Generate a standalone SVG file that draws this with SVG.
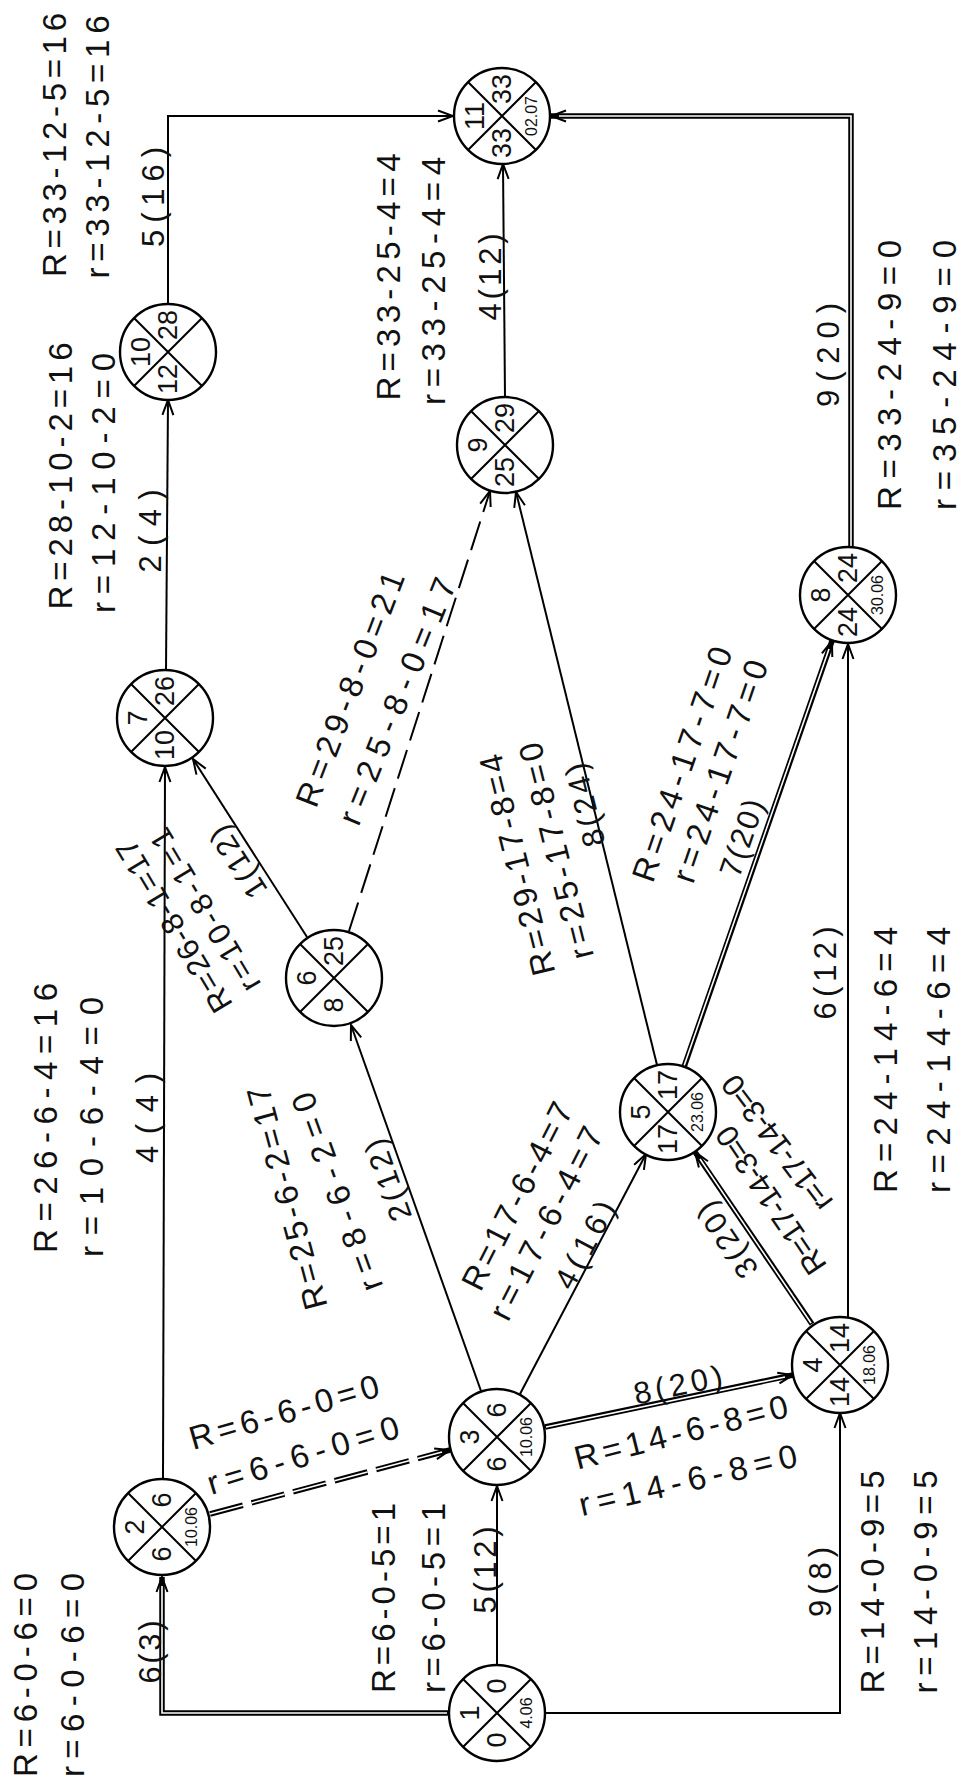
<svg xmlns="http://www.w3.org/2000/svg" width="963" height="1784" viewBox="0 0 963 1784">
<style>
text{font-family:"Liberation Sans",Arial,sans-serif;fill:#111;text-anchor:middle;dominant-baseline:central}
.node circle{fill:#fff;stroke:#000;stroke-width:2.4}
.node path{fill:none;stroke:#000;stroke-width:2}
.q{font-size:27px}
.dt{font-size:16px}
.lr{font-size:33px}
.lb{font-size:31px}
.e{fill:none;stroke:#000;stroke-width:2}
.dash{stroke-dasharray:30 10}
.dbl{fill:none;stroke:#000;stroke-width:5.5;stroke-linejoin:miter}
.dbi{fill:none;stroke:#fff;stroke-width:1.6;stroke-linejoin:miter}
.dd{stroke-dasharray:34 9}
</style>
<defs>
<marker id="ar" viewBox="-16 -8 18 16" refX="0" refY="0" markerWidth="18" markerHeight="16" orient="auto" markerUnits="userSpaceOnUse">
<path d="M-15,-5.5 L0,0 L-15,5.5" fill="none" stroke="#000" stroke-width="2"/>
</marker>
</defs>
<rect width="963" height="1784" fill="#fff"/>

<g id="connectors">
<path class="e" d="M497,1664 V1486" marker-end="url(#ar)"/>
<path class="e" d="M546,1713 H840 V1413" marker-end="url(#ar)"/>
<path class="e" d="M163,1478 L165,767" marker-end="url(#ar)"/>
<path class="e" d="M520,1394 L646,1154" marker-end="url(#ar)"/>
<path class="e" d="M481,1391 L351,1025" marker-end="url(#ar)"/>
<path class="e" d="M848,1318 V644" marker-end="url(#ar)"/>
<path class="e" d="M657,1065 L516,492" marker-end="url(#ar)"/>
<path class="e" d="M307,937 L193,759" marker-end="url(#ar)"/>
<path class="e dash" d="M349,931 L490,491" marker-end="url(#ar)"/>
<path class="e" d="M166,670 L168,400" marker-end="url(#ar)"/>
<path class="e" d="M505,397 L503,164" marker-end="url(#ar)"/>
<path class="e" d="M168,304 V116 H453" marker-end="url(#ar)"/>

<path class="dbl" d="M448,1713 H162 V1577" marker-end="url(#ar)"/>
<path class="dbi" d="M447,1713 H162 V1586"/>
<path class="dbl dd" d="M210,1514 L450,1450" marker-end="url(#ar)"/>
<path class="dbi dd" d="M210,1514 L442,1452"/>
<path class="dbl" d="M545,1427 L793,1375" marker-end="url(#ar)"/>
<path class="dbi" d="M546,1427 L785,1377"/>
<path class="dbl" d="M812,1324 L695,1152" marker-end="url(#ar)"/>
<path class="dbi" d="M811,1323 L700,1159"/>
<path class="dbl" d="M684,1067 L832,641" marker-end="url(#ar)"/>
<path class="dbi" d="M684,1066 L829,649"/>
<path class="dbl" d="M851,547 V116 H551" marker-end="url(#ar)"/>
<path class="dbi" d="M851,546 V116 H559"/>
</g>

<g id="node1" class="node" transform="translate(497,1713)"><circle r="48"/><path d="M-34,-34 L34,34 M-34,34 L34,-34"/>
<text class="q" transform="translate(-27,0) rotate(-90)">1</text><text class="q" transform="translate(0,-27) rotate(-90)">0</text><text class="q" transform="translate(0,27) rotate(-90)">0</text><text class="dt" transform="translate(29,0) rotate(-90)">4.06</text></g>
<g id="node2" class="node" transform="translate(162,1527)"><circle r="48"/><path d="M-34,-34 L34,34 M-34,34 L34,-34"/>
<text class="q" transform="translate(-27,0) rotate(-90)">2</text><text class="q" transform="translate(0,-27) rotate(-90)">6</text><text class="q" transform="translate(0,27) rotate(-90)">6</text><text class="dt" transform="translate(29,0) rotate(-90)">10.06</text></g>
<g id="node3" class="node" transform="translate(497,1437)"><circle r="48"/><path d="M-34,-34 L34,34 M-34,34 L34,-34"/>
<text class="q" transform="translate(-27,0) rotate(-90)">3</text><text class="q" transform="translate(0,-27) rotate(-90)">6</text><text class="q" transform="translate(0,27) rotate(-90)">6</text><text class="dt" transform="translate(29,0) rotate(-90)">10.06</text></g>
<g id="node4" class="node" transform="translate(840,1365)"><circle r="48"/><path d="M-34,-34 L34,34 M-34,34 L34,-34"/>
<text class="q" transform="translate(-27,0) rotate(-90)">4</text><text class="q" transform="translate(0,-27) rotate(-90)">14</text><text class="q" transform="translate(0,27) rotate(-90)">14</text><text class="dt" transform="translate(29,0) rotate(-90)">18.06</text></g>
<g id="node5" class="node" transform="translate(668,1112)"><circle r="48"/><path d="M-34,-34 L34,34 M-34,34 L34,-34"/>
<text class="q" transform="translate(-27,0) rotate(-90)">5</text><text class="q" transform="translate(0,-27) rotate(-90)">17</text><text class="q" transform="translate(0,27) rotate(-90)">17</text><text class="dt" transform="translate(29,0) rotate(-90)">23.06</text></g>
<g id="node6" class="node" transform="translate(334,978)"><circle r="48"/><path d="M-34,-34 L34,34 M-34,34 L34,-34"/>
<text class="q" transform="translate(-27,0) rotate(-90)">6</text><text class="q" transform="translate(0,-27) rotate(-90)">25</text><text class="q" transform="translate(0,27) rotate(-90)">8</text></g>
<g id="node7" class="node" transform="translate(165,718)"><circle r="48"/><path d="M-34,-34 L34,34 M-34,34 L34,-34"/>
<text class="q" transform="translate(-27,0) rotate(-90)">7</text><text class="q" transform="translate(0,-27) rotate(-90)">26</text><text class="q" transform="translate(0,27) rotate(-90)">10</text></g>
<g id="node8" class="node" transform="translate(848,595)"><circle r="48"/><path d="M-34,-34 L34,34 M-34,34 L34,-34"/>
<text class="q" transform="translate(-27,0) rotate(-90)">8</text><text class="q" transform="translate(0,-27) rotate(-90)">24</text><text class="q" transform="translate(0,27) rotate(-90)">24</text><text class="dt" transform="translate(29,0) rotate(-90)">30.06</text></g>
<g id="node9" class="node" transform="translate(505,445)"><circle r="48"/><path d="M-34,-34 L34,34 M-34,34 L34,-34"/>
<text class="q" transform="translate(-27,0) rotate(-90)">9</text><text class="q" transform="translate(0,-27) rotate(-90)">29</text><text class="q" transform="translate(0,27) rotate(-90)">25</text></g>
<g id="node10" class="node" transform="translate(168,352)"><circle r="48"/><path d="M-34,-34 L34,34 M-34,34 L34,-34"/>
<text class="q" transform="translate(-27,0) rotate(-90)">10</text><text class="q" transform="translate(0,-27) rotate(-90)">28</text><text class="q" transform="translate(0,27) rotate(-90)">12</text></g>
<g id="node11" class="node" transform="translate(502,116)"><circle r="48"/><path d="M-34,-34 L34,34 M-34,34 L34,-34"/>
<text class="q" transform="translate(-27,0) rotate(-90)">11</text><text class="q" transform="translate(0,-27) rotate(-90)">33</text><text class="q" transform="translate(0,27) rotate(-90)">33</text><text class="dt" transform="translate(29,0) rotate(-90)">02.07</text></g>

<g id="labels">
<text class="lr" transform="translate(54,145) rotate(-90)" textLength="264" lengthAdjust="spacing">R=33-12-5=16</text>
<text class="lr" transform="translate(97,147) rotate(-90)" textLength="263" lengthAdjust="spacing">r=33-12-5=16</text>
<text class="lb" transform="translate(153,197) rotate(-90)" textLength="100" lengthAdjust="spacing">5(16)</text>
<text class="lr" transform="translate(60,476) rotate(-90)" textLength="267" lengthAdjust="spacing">R=28-10-2=16</text>
<text class="lr" transform="translate(103,483) rotate(-90)" textLength="260" lengthAdjust="spacing">r=12-10-2=0</text>
<text class="lb" transform="translate(150,531) rotate(-90)" textLength="83" lengthAdjust="spacing">2(4)</text>
<text class="lr" transform="translate(388,277) rotate(-90)" textLength="247" lengthAdjust="spacing">R=33-25-4=4</text>
<text class="lr" transform="translate(433,281) rotate(-90)" textLength="248" lengthAdjust="spacing">r=33-25-4=4</text>
<text class="lb" transform="translate(490,277) rotate(-90)" textLength="87" lengthAdjust="spacing">4(12)</text>
<text class="lb" transform="translate(828,355) rotate(-90)" textLength="104" lengthAdjust="spacing">9(20)</text>
<text class="lr" transform="translate(889,375) rotate(-90)" textLength="270" lengthAdjust="spacing">R=33-24-9=0</text>
<text class="lr" transform="translate(944,375) rotate(-90)" textLength="270" lengthAdjust="spacing">r=35-24-9=0</text>
<text class="lr" transform="translate(45,1118) rotate(-90)" textLength="270" lengthAdjust="spacing">R=26-6-4=16</text>
<text class="lr" transform="translate(91,1127) rotate(-90)" textLength="260" lengthAdjust="spacing">r=10-6-4=0</text>
<text class="lb" transform="translate(147,1118) rotate(-90)" textLength="90" lengthAdjust="spacing">4(4)</text>
<text class="lb" transform="translate(825,973) rotate(-90)" textLength="93" lengthAdjust="spacing">6(12)</text>
<text class="lr" transform="translate(885,1060) rotate(-90)" textLength="266" lengthAdjust="spacing">R=24-14-6=4</text>
<text class="lr" transform="translate(938,1060) rotate(-90)" textLength="266" lengthAdjust="spacing">r=24-14-6=4</text>
<text class="lr" transform="translate(25,1675) rotate(-90)" textLength="204" lengthAdjust="spacing">R=6-0-6=0</text>
<text class="lr" transform="translate(72,1675) rotate(-90)" textLength="204" lengthAdjust="spacing">r=6-0-6=0</text>
<text class="lb" transform="translate(150,1652) rotate(-90)" textLength="63" lengthAdjust="spacing">6(3)</text>
<text class="lr" transform="translate(383,1598) rotate(-90)" textLength="190" lengthAdjust="spacing">R=6-0-5=1</text>
<text class="lr" transform="translate(433,1598) rotate(-90)" textLength="190" lengthAdjust="spacing">r=6-0-5=1</text>
<text class="lb" transform="translate(485,1570) rotate(-90)" textLength="87" lengthAdjust="spacing">5(12)</text>
<text class="lb" transform="translate(820,1582) rotate(-90)" textLength="70" lengthAdjust="spacing">9(8)</text>
<text class="lr" transform="translate(872,1582) rotate(-90)" textLength="223" lengthAdjust="spacing">R=14-0-9=5</text>
<text class="lr" transform="translate(925,1582) rotate(-90)" textLength="223" lengthAdjust="spacing">r=14-0-9=5</text>

<text class="lr" transform="translate(284,1412) rotate(-16)" textLength="196" lengthAdjust="spacing">R=6-6-0=0</text>
<text class="lr" transform="translate(303,1455) rotate(-17)" textLength="199" lengthAdjust="spacing">r=6-6-0=0</text>
<text class="lb" transform="translate(678,1385) rotate(-12)" textLength="90" lengthAdjust="spacing">8(20)</text>
<text class="lr" transform="translate(681,1432) rotate(-14)" textLength="219" lengthAdjust="spacing">R=14-6-8=0</text>
<text class="lr" transform="translate(688,1480) rotate(-13)" textLength="223" lengthAdjust="spacing">r=14-6-8=0</text>
<text class="lb" transform="translate(388,1180) rotate(-109.6)" textLength="85" lengthAdjust="spacing">2(12)</text>
<text class="lr" transform="translate(287,1198) rotate(-105)" textLength="230" lengthAdjust="spacing">R=25-6-2=17</text>
<text class="lr" transform="translate(337,1192) rotate(-110)" textLength="209" lengthAdjust="spacing">r=8-6-2=0</text>
<text class="lb" transform="translate(585,1245) rotate(-62)" textLength="95" lengthAdjust="spacing">4(16)</text>
<text class="lr" transform="translate(517,1196) rotate(-63)" textLength="206" lengthAdjust="spacing">R=17-6-4=7</text>
<text class="lr" transform="translate(546,1223) rotate(-63)" textLength="212" lengthAdjust="spacing">r=17-6-4=7</text>
<text class="lb" transform="translate(727,1240) rotate(-124)" textLength="85" lengthAdjust="spacing">3(20)</text>
<text class="lb" transform="translate(771,1200) rotate(-124)" textLength="172" lengthAdjust="spacing">R=17-14-3=0</text>
<text class="lb" transform="translate(777,1143) rotate(-127)" textLength="162" lengthAdjust="spacing">r=17-14-3=0</text>
<text class="lr" transform="translate(517,865) rotate(-104)" textLength="227" lengthAdjust="spacing">R=29-17-8=4</text>
<text class="lr" transform="translate(556,851) rotate(-104)" textLength="222" lengthAdjust="spacing">r=25-17-8=0</text>
<text class="lb" transform="translate(585,805) rotate(-104)" textLength="85" lengthAdjust="spacing">8(24)</text>
<text class="lr" transform="translate(682,764) rotate(-71)" textLength="246" lengthAdjust="spacing">R=24-17-7=0</text>
<text class="lr" transform="translate(720,771) rotate(-71)" textLength="233" lengthAdjust="spacing">r=24-17-7=0</text>
<text class="lb" transform="translate(742,838) rotate(-71)" textLength="80" lengthAdjust="spacing">7(20)</text>
<text class="lr" transform="translate(350,689) rotate(-69)" textLength="249" lengthAdjust="spacing">R=29-8-0=21</text>
<text class="lr" transform="translate(397,701) rotate(-68)" textLength="263" lengthAdjust="spacing">r=25-8-0=17</text>
<text class="lb" transform="translate(238,862) rotate(-123)" textLength="80" lengthAdjust="spacing">1(12)</text>
<text class="lb" transform="translate(174,926) rotate(-121)" textLength="196" lengthAdjust="spacing">R=26-8-1=17</text>
<text class="lb" transform="translate(205,910) rotate(-121)" textLength="185" lengthAdjust="spacing">r=10-8-1=1</text>
</g>
</svg>
